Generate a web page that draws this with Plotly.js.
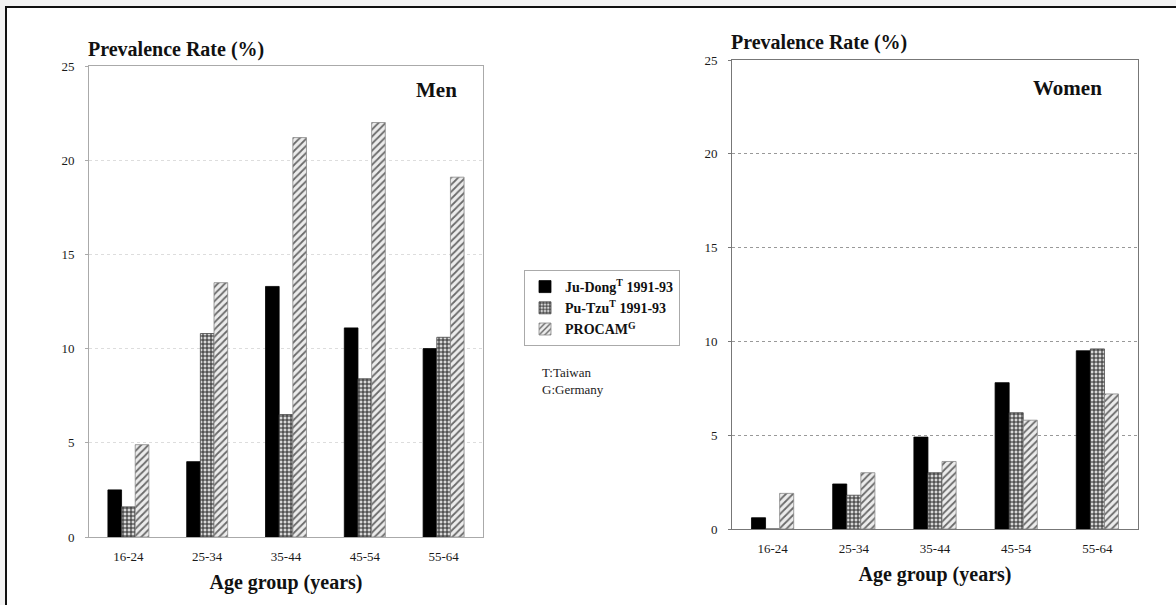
<!DOCTYPE html>
<html>
<head>
<meta charset="utf-8">
<script src="https://cdn.plot.ly/plotly-3.0.1.min.js"></script>
<style>
  html, body { margin: 0; padding: 0; background: #f3f3f3; }
  #chart { width: 1176px; height: 605px; }
</style>
</head>
<body>
<div id="chart"></div>
<script>
// Age groups shown on both panels
const ageGroups = ['16-24', '25-34', '35-44', '45-54', '55-64'];

// Prevalence rate (%) for men
const menJuDong  = [2.5, 4.0, 13.3, 11.1, 10.0];
const menPuTzu   = [1.6, 10.8, 6.5, 8.4, 10.6];
const menProcam  = [4.9, 13.5, 21.2, 22.0, 19.1];

// Prevalence rate (%) for women
const womenJuDong = [0.6, 2.4, 4.9, 7.8, 9.5];
const womenPuTzu  = [0.0, 1.8, 3.0, 6.2, 9.6];
const womenProcam = [1.9, 3.0, 3.6, 5.8, 7.2];

// Series names and y-axis ticks
const seriesNames = ['Ju-Dong<sup>T</sup> 1991-93', 'Pu-Tzu<sup>T</sup> 1991-93', 'PROCAM<sup>G</sup>'];
const yTicks = [0, 5, 10, 15, 20, 25];

const W = 1176, H = 605;
const px = v => v / W;
const py = v => 1 - v / H;

const serif = 'Liberation Serif, Times New Roman, serif';

const styles = [
  { color: '#000000', line: '#000000', pattern: { shape: '' } },
  { color: '#333333', line: '#444444',
    pattern: { shape: '+', fgcolor: '#2a2a2a', bgcolor: '#d8d8d8', size: 4, solidity: 0.45 } },
  { color: '#777777', line: '#888888',
    pattern: { shape: '/', fgcolor: '#6a6a6a', bgcolor: '#ececec', size: 5, solidity: 0.35 } }
];

function makeTraces(values, xa, ya, showLegend) {
  return values.map((vals, i) => ({
    type: 'bar',
    x: ageGroups,
    y: vals,
    name: seriesNames[i],
    xaxis: xa,
    yaxis: ya,
    showlegend: showLegend,
    legendgroup: 's' + i,
    marker: {
      color: styles[i].color,
      line: { color: styles[i].line, width: 0.8 },
      pattern: styles[i].pattern
    },
    hoverinfo: 'x+y+name'
  }));
}

const data = [
  ...makeTraces([menJuDong, menPuTzu, menProcam], 'x', 'y', true),
  ...makeTraces([womenJuDong, womenPuTzu, womenProcam], 'x2', 'y2', false)
];

function yAxis(domain, anchor, lineColor, gridColor) {
  return {
    domain: domain,
    anchor: anchor,
    range: [0, 25],
    tickvals: yTicks,
    ticks: 'outside',
    ticklen: 3,
    tickcolor: lineColor,
    showline: true,
    linecolor: lineColor,
    linewidth: 1,
    mirror: true,
    showgrid: true,
    gridcolor: gridColor,
    griddash: 'dot',
    gridwidth: 1,
    zeroline: false,
    tickfont: { family: serif, size: 13, color: '#1a1a1a' },
    ticklabelstandoff: 8,
    fixedrange: true
  };
}

function xAxis(domain, anchor, lineColor) {
  return {
    domain: domain,
    anchor: anchor,
    type: 'category',
    showline: true,
    linecolor: lineColor,
    linewidth: 1,
    mirror: true,
    ticks: '',
    ticklabelstandoff: 7,
    showgrid: false,
    tickfont: { family: serif, size: 13, color: '#1a1a1a' },
    title: {
      text: '<b>Age group (years)</b>',
      font: { family: serif, size: 20, color: '#111' },
      standoff: 12
    },
    fixedrange: true
  };
}

const layout = {
  width: W,
  height: H,
  margin: { l: 0, r: 0, t: 0, b: 0 },
  paper_bgcolor: '#f3f3f3',
  plot_bgcolor: 'rgba(0,0,0,0)',
  barmode: 'group',
  bargap: 0.48,
  bargroupgap: 0,
  font: { family: serif, color: '#111' },
  xaxis: xAxis([px(89), px(483)], 'y', '#aaaaaa'),
  yaxis: yAxis([py(537), py(66)], 'x', '#aaaaaa', '#dddddd'),
  xaxis2: xAxis([px(732), px(1138)], 'y2', '#777777'),
  yaxis2: yAxis([py(529), py(60)], 'x2', '#777777', '#999999'),
  legend: {
    x: px(524),
    y: py(270),
    xanchor: 'left',
    yanchor: 'top',
    bgcolor: '#ffffff',
    bordercolor: '#aaaaaa',
    borderwidth: 1,
    tracegroupgap: 0,
    itemwidth: 30,
    font: { family: serif, size: 14, color: '#111', weight: 'bold' }
  },
  shapes: [
    // page frame
    {
      type: 'rect', xref: 'paper', yref: 'paper', layer: 'below',
      x0: px(6), x1: 1.02, y0: -0.02, y1: py(7),
      line: { color: '#111', width: 2 }, fillcolor: '#ffffff'
    }
  ],
  annotations: [
    {
      text: '<b>Prevalence Rate (%)</b>', xref: 'paper', yref: 'paper',
      x: px(86), y: py(49), xanchor: 'left', yanchor: 'middle', showarrow: false,
      font: { family: serif, size: 20, color: '#111' }
    },
    {
      text: '<b>Prevalence Rate (%)</b>', xref: 'paper', yref: 'paper',
      x: px(729), y: py(43), xanchor: 'left', yanchor: 'middle', showarrow: false,
      font: { family: serif, size: 20, color: '#111' }
    },
    {
      text: '<b>Men</b>', xref: 'paper', yref: 'paper',
      x: px(436), y: py(90), xanchor: 'center', yanchor: 'middle', showarrow: false,
      font: { family: serif, size: 21, color: '#111' }
    },
    {
      text: '<b>Women</b>', xref: 'paper', yref: 'paper',
      x: px(1067), y: py(88), xanchor: 'center', yanchor: 'middle', showarrow: false,
      font: { family: serif, size: 21, color: '#111' }
    },
    {
      text: 'T:Taiwan<br>G:Germany', xref: 'paper', yref: 'paper',
      x: px(540), y: py(363), xanchor: 'left', yanchor: 'top', align: 'left', showarrow: false,
      font: { family: serif, size: 13, color: '#222' }
    }
  ]
};

Plotly.newPlot('chart', data, layout, { displayModeBar: false, staticPlot: true });
</script>
</body>
</html>
